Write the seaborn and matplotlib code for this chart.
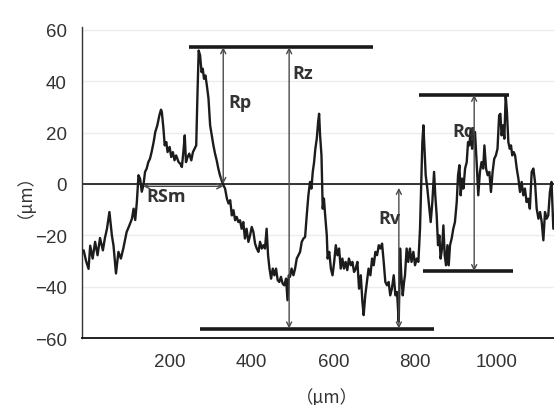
import numpy as np
import pandas as pd
import seaborn as sns
import matplotlib
matplotlib.use("Agg")
import matplotlib.pyplot as plt
from matplotlib.transforms import ScaledTranslation

# ---------------- data (µm) ----------------
x_um = [
    0, 6, 12, 16, 22, 28, 34, 40, 47, 52, 57, 63, 69, 73, 79, 85, 91, 97, 105, 112,
    118, 122, 126, 130, 134, 138, 142, 146, 150, 154, 158, 162, 166, 171, 175, 180, 185, 189,
    191, 195, 198, 202, 205, 210, 214, 218, 222, 226, 232, 236, 240, 244, 247, 250, 254, 258,
    263, 267, 271, 275, 278, 281, 284.5, 288, 291, 294, 297.5, 301, 305, 309, 313, 317, 321,
    325, 329, 333, 337, 341.5, 345.5, 350, 354, 358, 362, 366, 370, 374, 378,
    382, 386, 390, 394, 398, 402.5, 406.6, 410.6, 414.7, 418.8, 422.9, 427, 431, 435, 439,
    443, 447, 450.5, 454, 458, 462, 466, 470, 474, 478, 482, 486, 490, 494.5, 498, 501, 504,
    508, 512.5, 516.5, 520.6, 524.7, 528.7, 532.8, 537, 541, 545, 549, 553, 556.4, 559.7, 563,
    566, 569.5, 572.8, 575.2, 577.6, 581,
    584, 587, 590, 594, 596, 600, 604, 608, 612, 616, 620, 624, 628, 632, 636, 640, 644, 648,
    652.5, 656.5, 660.6, 664.7, 668.7, 672.8, 677, 681, 684, 688, 692, 696, 700.5, 704.6,
    708.6, 712.7, 716.8, 721, 725, 729, 733, 737, 741, 745, 749, 753, 757.5, 761.6, 765.6,
    769.7, 773, 776, 779.5, 782.7,
    785, 789, 793, 797, 801, 805.5, 809.5, 813.6, 817.7, 821.7, 825, 827.4, 830, 832.3, 835.6,
    839.6, 843.7, 847.8, 851.8, 856, 859, 862.4, 865.7, 869, 872, 875.5, 878.8, 882, 885.3,
    888.6, 891.8, 895, 899, 903, 907, 911.4, 914.6, 918, 921, 924.4, 927.7, 931.8, 935.8, 939,
    942.4, 945.6, 949, 952,
    956, 960, 964, 968, 972, 976, 979, 983, 987, 991, 995, 999, 1003, 1007, 1011, 1015, 1018,
    1021, 1024.5, 1027.7, 1031, 1034, 1037.5, 1041, 1044, 1047, 1050.6, 1054, 1058, 1062, 1066,
    1070, 1074, 1078, 1082, 1086, 1090, 1094.5, 1098.6, 1102.6, 1106.7, 1111, 1115, 1119, 1123,
    1127, 1131, 1135, 1139, 1143, 1147.4,
]
height_um = [
    -25.8, -30, -33, -24, -29, -22.5, -27.7, -21, -25.8, -21, -17.4, -10.9, -20, -24, -34.8,
    -26.4, -29, -25, -18.7, -16, -13.5, -9.6, -14, -7, 3.4, 2, -3, -0.5, 4.7, 6, 8.5, 9.8, 12.4,
    16.3, 20.2, 22.8, 26.7, 28.9,
    28, 21.5, 15, 16.3, 12.4, 14.4, 10.5, 12.4, 9.2, 11.1, 8.5, 7.9, 6.6, 13.1, 18.9, 8.5, 10.5,
    11.8, 9.2, 12.4, 13.7, 15, 34.5, 51.9, 50, 43.5, 44.8, 40.9, 42.2, 38.3, 33.2, 22.8, 18.9,
    15, 11.8, 9.2, 6, 3.4, 1.4, -0.5, -1.8, -5.7, -7.6, -6.3, -12.2, -10.2, -14.1, -12.8, -14.8,
    -14.1, -17.4, -14.8, -21.2, -17.4, -22.5, -20, -16.7, -18.7, -23.2, -25.1, -26.4, -22.5,
    -25.1, -23.8, -25.1, -17.4, -27.7, -32.9, -36.8, -32.9, -35.5, -32.9, -37.4, -38.1, -36.1,
    -38.7, -39.4, -36.8, -45.2, -35.5, -36.1, -32.9, -35.5, -32.9, -29, -27.7, -26.4, -22.5,
    -21.2, -20.6, -12.2, -4.4, 0.8, -1.8, 4.7, 8.5, 13.7, 17.6, 24.1, 27.3, 18.9, 11.1,
    -9.6, -5.7, -12.2, -20, -29, -26.4, -32.9, -35.5, -30.3, -23.8, -27.7, -25.1, -32.9, -29,
    -32.9, -30.3, -33.5, -29, -31.6, -30.3, -34.2, -32.9, -30.3, -40.7, -35.5, -45.9, -51,
    -43.3, -38.1, -32.9, -35.5, -29, -31.6, -26.4, -27.7, -23.8, -25.1, -23.2, -30.3, -38.1,
    -39.4, -38.1, -43.3, -40.7, -35.5, -43.3, -42, -53.6, -25.1, -35.5, -43.3, -38.1,
    -35.5, -25.1, -30.3, -25.1, -30.3, -26.4, -31.6, -29, -30.3, -17.4, 2.1, 16.3, 22.8, 15,
    3.4, -1.8, -8.3, -14.8, -7, 4.7, -4.4, -12.2, -23.8, -20, -29, -25.1, -16.1, -27.7, -31.6,
    -23.8, -31.6, -23.8, -21.2, -17.4, -14.8, -7, 3.4, 7.3, -4.4, 2.1, -1.8, 6, 8.5, 16.3, 15,
    21.5, 13.7, 17.6,
    20.2, 8.5, -4.4, 4.7, 8.5, 6, 15, 6, 3.4, 4.7, -3.1, 4.7, 9.8, 11.1, 13.7, 26.7, 27.3, 18.9,
    22.8, 17.6, 34.5, 28, 16.3, 13.7, 15, 11.1, 12.4, 11.1, 6, 2.1, -3.1, 0.8, -4.4, -1.8, -7,
    -5.7, -9.6, 4.7, 6, 0.8, -9.6, -13.5, -10.9, -14.8, -21.9, -10.9, -13.5, -12.2, -3.1, 0.8,
    -17.4,
]

x_ticks = [200, 400, 600, 800, 1000]
y_ticks = [-60, -40, -20, 0, 20, 40, 60]

# reference levels: (level, x start, x end)
ref_levels = [53.2, -56.2, 34.7, -33.9]
ref_starts = [258, 284, 819, 830]
ref_ends = [706, 857, 1038, 1048]

# measurement arrows and labels
arrow_names = ["Rp", "Rz", "Rv", "Rq"]
arrow_x = [341, 502, 770, 954]
arrow_from = [0, -56.2, -1.5, -33.9]
arrow_to = [53.2, 53.2, -56.2, 34.7]
label_x = [354, 511, 720, 901]
label_y = [31.8, 43.2, -13.2, 20.7]

rsm_name = "RSm"
rsm_x = [146, 341]
rsm_y = -0.9
rsm_label_pos = [154, -4.5]

unit_label = "（μm）"

# ---------------- figure ----------------
sns.set_theme(style="white")
plt.rcParams["font.family"] = ["Liberation Sans", "DejaVu Sans"]

fig = plt.figure(figsize=(5.54, 4.06), dpi=100)
ax = fig.add_axes([82 / 554, 1 - 339.3 / 406, 472 / 554, 311.2 / 406])

df = pd.DataFrame({"x": x_um, "y": height_um})
sns.lineplot(data=df, x="x", y="y", ax=ax, color="#1c1c1c", lw=1.7,
             sort=False, estimator=None, zorder=3)

ax.set_xlim(-4, 1149)
ax.set_ylim(-60, 61)
ax.set_xticks(x_ticks)
ax.set_yticks(y_ticks)
ax.set_yticklabels([f"{v}".replace("-", "\u2212") for v in y_ticks])

ax.yaxis.grid(True, color="#ececec", lw=1)
ax.set_axisbelow(True)
ax.axhline(0, color="black", lw=1.1, zorder=2)

for s in ["top", "right"]:
    ax.spines[s].set_visible(False)
ax.spines["left"].set_color("#333333")
ax.spines["left"].set_linewidth(1.0)
ax.spines["bottom"].set_color("#111111")
ax.spines["bottom"].set_linewidth(1.3)

ax.tick_params(axis="x", direction="in", length=2.5, width=1.5, color="#111111",
               pad=10.5, labelsize=13.5, labelcolor="#333333")
ax.tick_params(axis="y", length=0, pad=11, labelsize=13.5, labelcolor="#333333")
for lab in ax.get_xticklabels():
    lab.set_transform(lab.get_transform() + ScaledTranslation(4 / 100, 0, fig.dpi_scale_trans))

# thick reference lines
ax.hlines(ref_levels, ref_starts, ref_ends, color="#1a1a1a", lw=2.6, zorder=4)

lab_font = ["Open Sans", "DejaVu Sans"]
arrow_props = dict(arrowstyle="<->", color="#4a4a4a", lw=1.0, shrinkA=0, shrinkB=0,
                   mutation_scale=9)
for name, xa, y0, y1, lx, ly in zip(arrow_names, arrow_x, arrow_from, arrow_to, label_x, label_y):
    ax.annotate("", xy=(xa, y1), xytext=(xa, y0), arrowprops=arrow_props, zorder=5)
    ax.text(lx, ly, name, family=lab_font, fontweight="bold", fontsize=13,
            color="#333333", ha="left", va="center", zorder=6)

ax.annotate("", xy=(rsm_x[1], rsm_y), xytext=(rsm_x[0], rsm_y), arrowprops=arrow_props, zorder=5)
ax.text(rsm_label_pos[0], rsm_label_pos[1], rsm_name, family=lab_font, fontweight="bold",
        fontsize=13, color="#333333", ha="left", va="center", zorder=6)

cjk = ["Noto Sans CJK JP", "DejaVu Sans"]
ax.set_xlabel(unit_label, family=cjk, fontsize=12.5, color="#333333", va="center")
ax.set_ylabel(unit_label, family=cjk, fontsize=12.5, color="#333333", va="center")
ax.xaxis.set_label_coords(0.518, -0.186)
ax.yaxis.set_label_coords(-0.142, 0.49)

fig.savefig("out.png", dpi=100)
